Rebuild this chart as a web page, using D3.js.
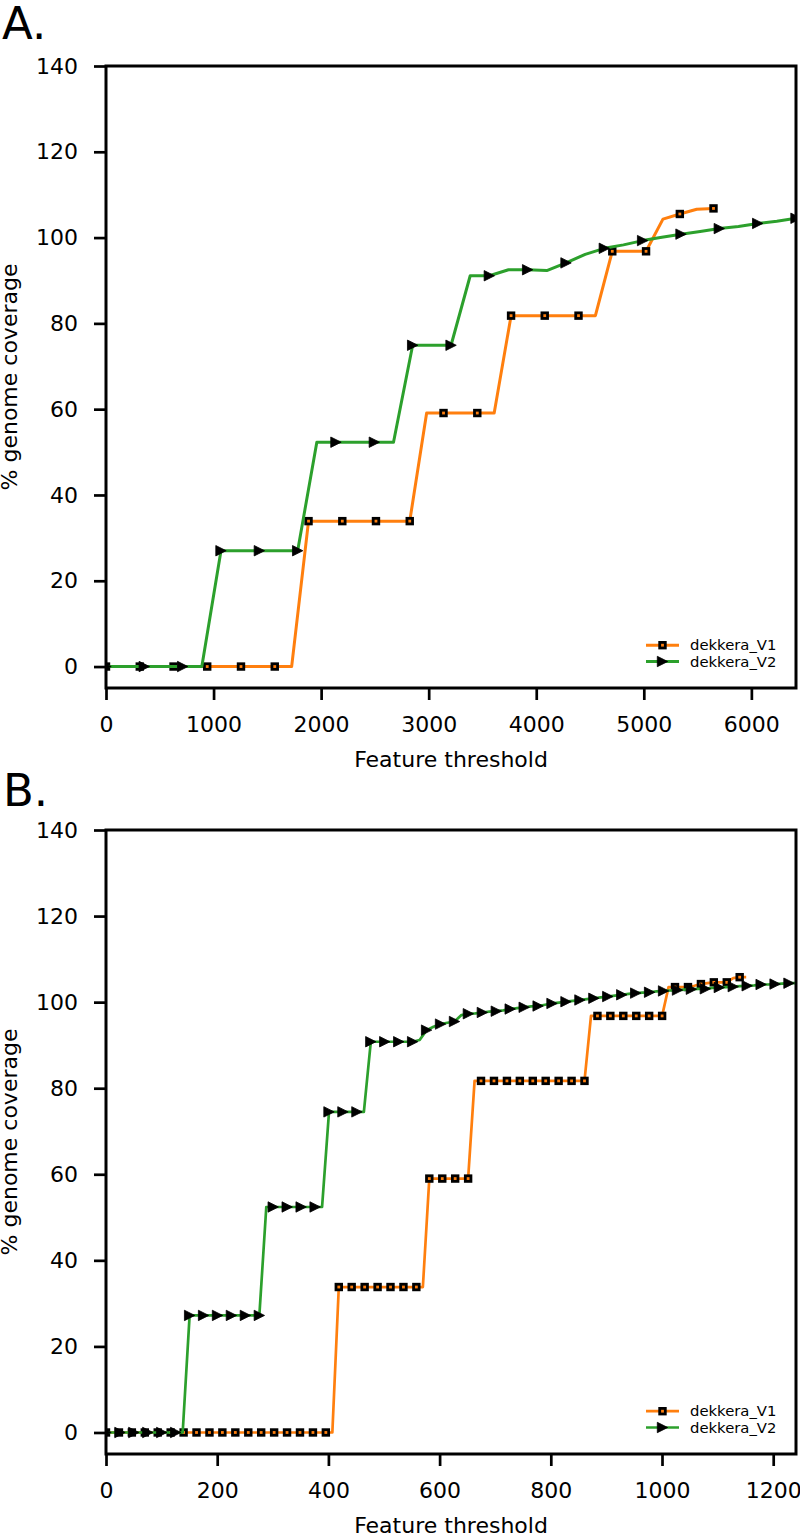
<!DOCTYPE html>
<html><head><meta charset="utf-8">
<script src="https://cdn.jsdelivr.net/npm/d3@7"></script>
<style>body{margin:0;background:#fff} svg{display:block} text{font-family:"DejaVu Sans",sans-serif;fill:#000}</style>
</head><body><svg id="c" width="800" height="1535"></svg>
<script>
const seriesNames = ["dekkera_V1", "dekkera_V2"];
const panelLabels = ["A.", "B."];
const xLabel = "Feature threshold";
const yLabel = "% genome coverage";
const yTicks = [0, 20, 40, 60, 80, 100, 120, 140];
const xTicksA = [0, 1000, 2000, 3000, 4000, 5000, 6000];
const xTicksB = [0, 200, 400, 600, 800, 1000, 1200];

// Panel A
const xA_V1 = [0, 157, 314, 471, 628, 785, 941, 1098, 1255, 1412, 1569, 1726, 1883, 2040, 2197, 2354, 2510, 2667, 2824, 2981, 3138, 3295, 3452, 3609, 3766, 3923, 4079, 4236, 4393, 4550, 4707, 4864, 5021, 5178, 5335, 5492, 5648];
const yA_V1 = [0, 0, 0, 0, 0, 0, 0, 0, 0, 0, 0, 0, 33.9, 33.9, 33.9, 33.9, 33.9, 33.9, 33.9, 59.1, 59.1, 59.1, 59.1, 59.1, 81.8, 81.8, 81.8, 81.8, 81.8, 81.8, 96.8, 96.8, 96.8, 104.3, 105.5, 106.6, 106.8];
const xA_V2 = [0, 178, 356, 535, 713, 891, 1069, 1247, 1426, 1604, 1782, 1960, 2138, 2317, 2495, 2673, 2851, 3029, 3208, 3386, 3564, 3742, 3920, 4098, 4277, 4455, 4633, 4811, 4989, 5168, 5346, 5524, 5702, 5880, 6059, 6237, 6415];
const yA_V2 = [0, 0, 0, 0, 0, 0, 27.0, 27.0, 27.0, 27.0, 27.0, 52.3, 52.3, 52.3, 52.3, 52.3, 74.9, 74.9, 74.9, 91.1, 91.1, 92.5, 92.5, 92.3, 94.1, 96.1, 97.5, 98.3, 99.3, 100.1, 100.8, 101.4, 102.1, 102.6, 103.3, 103.8, 104.5];

// Panel B
const xB_V1 = [0, 11.6, 23.3, 34.9, 46.5, 58.2, 69.8, 81.4, 93.0, 104.7,
  116.3, 127.9, 139.6, 151.2, 162.8, 174.5, 186.1, 197.7, 209.3, 221.0,
  232.6, 244.2, 255.9, 267.5, 279.1, 290.8, 302.4, 314.0, 325.6, 337.3,
  348.9, 360.5, 372.2, 383.8, 395.4, 407.1, 418.7, 430.3, 441.9, 453.6,
  465.2, 476.8, 488.5, 500.1, 511.7, 523.4, 535.0, 546.6, 558.2, 569.9,
  581.5, 593.1, 604.8, 616.4, 628.0, 639.7, 651.3, 662.9, 674.5, 686.2,
  697.8, 709.4, 721.1, 732.7, 744.3, 756.0, 767.6, 779.2, 790.8, 802.5,
  814.1, 825.7, 837.4, 849.0, 860.6, 872.3, 883.9, 895.5, 907.1, 918.8,
  930.4, 942.0, 953.7, 965.3, 976.9, 988.6, 1000.2, 1011.8, 1023.4, 1035.1,
  1046.7, 1058.3, 1070.0, 1081.6, 1093.2, 1104.9, 1116.5, 1128.1, 1139.7, 1151.4];
const yB_V1 = [0, 0, 0, 0, 0, 0, 0, 0, 0, 0,
  0, 0, 0, 0, 0, 0, 0, 0, 0, 0,
  0, 0, 0, 0, 0, 0, 0, 0, 0, 0,
  0, 0, 0, 0, 0, 0, 33.8, 33.8, 33.8, 33.8,
  33.8, 33.8, 33.8, 33.8, 33.8, 33.8, 33.8, 33.8, 33.8, 33.8,
  59.0, 59.0, 59.0, 59.0, 59.0, 59.0, 59.0, 81.7, 81.7, 81.7,
  81.7, 81.7, 81.7, 81.7, 81.7, 81.7, 81.7, 81.7, 81.7, 81.7,
  81.7, 81.7, 81.7, 81.7, 81.7, 96.8, 96.8, 96.8, 96.8, 96.8,
  96.8, 96.8, 96.8, 96.8, 96.8, 96.8, 96.8, 103.5, 103.5, 103.5,
  103.5, 103.8, 104.2, 104.4, 104.6, 104.6, 104.6, 105.6, 105.8, 105.8];
const xB_V2 = [0, 12.5, 25.1, 37.6, 50.1, 62.7, 75.2, 87.7, 100.3, 112.8,
  125.4, 137.9, 150.4, 163.0, 175.5, 188.0, 200.6, 213.1, 225.6, 238.2,
  250.7, 263.2, 275.8, 288.3, 300.8, 313.4, 325.9, 338.4, 351.0, 363.5,
  376.1, 388.6, 401.1, 413.7, 426.2, 438.7, 451.3, 463.8, 476.3, 488.9,
  501.4, 513.9, 526.5, 539.0, 551.5, 564.1, 576.6, 589.1, 601.7, 614.2,
  626.8, 639.3, 651.8, 664.4, 676.9, 689.4, 702.0, 714.5, 727.0, 739.6,
  752.1, 764.6, 777.2, 789.7, 802.2, 814.8, 827.3, 839.8, 852.4, 864.9,
  877.5, 890.0, 902.5, 915.1, 927.6, 940.1, 952.7, 965.2, 977.7, 990.3,
  1002.8, 1015.3, 1027.9, 1040.4, 1052.9, 1065.5, 1078.0, 1090.5, 1103.1, 1115.6,
  1128.2, 1140.7, 1153.2, 1165.8, 1178.3, 1190.8, 1203.4, 1215.9, 1228.4, 1241.0];
const yB_V2 = [0, 0, 0, 0, 0, 0, 0, 0, 0, 0,
  0, 0, 27.2, 27.2, 27.2, 27.2, 27.2, 27.2, 27.2, 27.2,
  27.2, 27.2, 27.2, 52.4, 52.4, 52.4, 52.4, 52.4, 52.4, 52.4,
  52.4, 52.4, 74.5, 74.5, 74.5, 74.5, 74.5, 74.5, 90.8, 90.8,
  90.8, 90.8, 90.8, 90.8, 90.8, 91.2, 93.5, 94.3, 94.9, 95.2,
  95.5, 97.0, 97.3, 97.4, 97.6, 97.8, 97.9, 98.1, 98.4, 98.6,
  98.8, 99.0, 99.1, 99.4, 99.7, 99.9, 100.1, 100.3, 100.5, 100.7,
  100.9, 101.1, 101.3, 101.5, 101.7, 101.9, 102.1, 102.2, 102.3, 102.5,
  102.6, 102.7, 102.8, 102.9, 103.0, 103.1, 103.1, 103.3, 103.4, 103.5,
  103.6, 103.7, 103.8, 103.9, 104.1, 104.1, 104.2, 104.3, 104.4, 104.4];

const colors = ["#ff7f0e", "#2ca02c"];
const svg = d3.select("#c");

function drawSquare(sel, x, y) {
  sel.append("rect").attr("x", x - 2.8).attr("y", y - 2.8).attr("width", 5.6).attr("height", 5.6)
    .attr("fill", colors[0]).attr("stroke", "#000").attr("stroke-width", 2.8);
}
function drawTri(sel, x, y) {
  const h = 5.2;
  sel.append("path").attr("d", `M${x + h},${y}L${x - h},${y - h}L${x - h},${y + h}Z`)
    .attr("fill", "#000").attr("stroke", "#000").attr("stroke-width", 0.8).attr("stroke-linejoin", "miter");
}

function panel(cfg, idx) {
  const L = 106, R = 796, T = cfg.top, B = cfg.bottom;
  const x = d3.scaleLinear().domain([0, cfg.xMax]).range([L, R]);
  const y = d3.scaleLinear().domain([-5, 140]).range([B, T]);
  const g = svg.append("g");
  const cid = "clip" + idx;
  g.append("clipPath").attr("id", cid).append("rect").attr("x", L).attr("y", T).attr("width", R - L).attr("height", B - T);
  const plot = g.append("g").attr("clip-path", `url(#${cid})`);
  cfg.series.forEach((s, si) => {
    const pts = s.x.map((v, i) => [v, s.y[i]]);
    plot.append("path").datum(pts)
      .attr("d", d3.line().x(d => x(d[0])).y(d => y(d[1])))
      .attr("fill", "none").attr("stroke", colors[si]).attr("stroke-width", cfg.lw)
      .attr("stroke-linejoin", "round").attr("stroke-linecap", "butt");
    const mg = plot.append("g");
    pts.forEach((d, i) => {
      if (i % 2 !== 0) return;
      if (si === 0) drawSquare(mg, x(d[0]), y(d[1])); else drawTri(mg, x(d[0]), y(d[1]));
    });
  });
  // axes
  const ya = g.append("g").attr("transform", `translate(${L},0)`)
    .call(d3.axisLeft(y).tickValues(yTicks).tickSize(12).tickPadding(16).tickFormat(d3.format("d")));
  const xa = g.append("g").attr("transform", `translate(0,${B})`)
    .call(d3.axisBottom(x).tickValues(cfg.xTicks).tickSize(12).tickPadding(16).tickFormat(d3.format("d")));
  [ya, xa].forEach(a => {
    a.select(".domain").remove();
    a.selectAll(".tick line").attr("stroke", "#000").attr("stroke-width", 2.7);
    a.selectAll(".tick text").attr("font-size", 22).attr("font-family", "DejaVu Sans").attr("fill", "#000");
  });
  g.append("rect").attr("x", L).attr("y", T).attr("width", R - L).attr("height", B - T)
    .attr("fill", "none").attr("stroke", "#000").attr("stroke-width", 3);
  // labels
  g.append("text").attr("x", (L + R) / 2).attr("y", B + 79).attr("text-anchor", "middle")
    .attr("font-size", 22).text(xLabel);
  g.append("text").attr("transform", `translate(16.5,${(T + B) / 2}) rotate(-90)`).attr("text-anchor", "middle")
    .attr("font-size", 22).text(yLabel);
  g.append("text").attr("x", cfg.labelX).attr("y", cfg.labelY).attr("font-size", 45).text(cfg.label);
  // legend
  const lg = g.append("g");
  seriesNames.forEach((n, si) => {
    const ly = B - 42.8 + si * 16.3;
    lg.append("line").attr("x1", 646).attr("x2", 679).attr("y1", ly).attr("y2", ly)
      .attr("stroke", colors[si]).attr("stroke-width", cfg.lw);
    if (si === 0) drawSquare(lg, 662.5, ly); else drawTri(lg, 662.5, ly);
    const t = lg.append("text").attr("x", 690).attr("y", ly).attr("dy", "0.35em").attr("font-size", 14.5).text(n);
    const w = t.node().getBBox().width;
    if (w > 0) t.attr("font-size", 14.5 * 86.5 / w);
  });
}

panel({ label: panelLabels[0], labelX: 2, labelY: 39, top: 66, bottom: 688, xMax: 6415, xTicks: xTicksA, lw: 3,
  series: [{ x: xA_V1, y: yA_V1 }, { x: xA_V2, y: yA_V2 }] }, 0);
panel({ label: panelLabels[1], labelX: 3, labelY: 806, top: 830, bottom: 1454, xMax: 1241, xTicks: xTicksB, lw: 2.7,
  series: [{ x: xB_V1, y: yB_V1 }, { x: xB_V2, y: yB_V2 }] }, 1);
</script></body></html>
